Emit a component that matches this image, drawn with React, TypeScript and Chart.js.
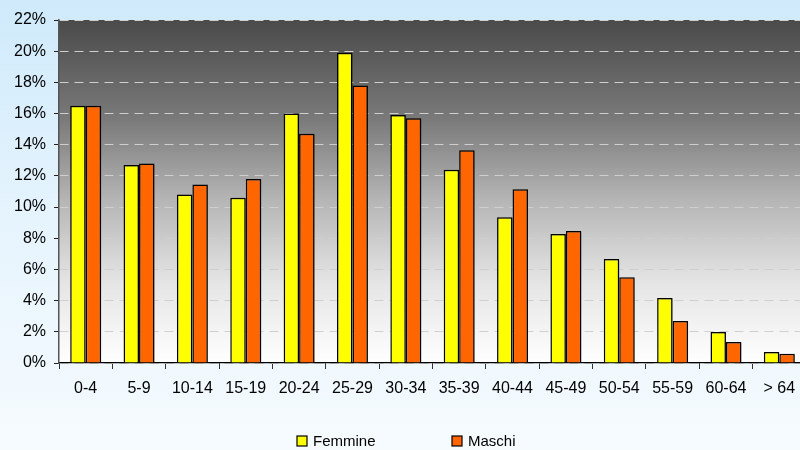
import React, { useEffect, useRef } from "react";
import { Chart, registerables } from "chart.js";

Chart.register(...registerables);

const categories = ["0-4", "5-9", "10-14", "15-19", "20-24", "25-29", "30-34", "35-39", "40-44", "45-49", "50-54", "55-59", "60-64", "> 64"];
const femmine = [16.5, 12.7, 10.8, 10.6, 16.0, 19.9, 15.9, 12.4, 9.35, 8.27, 6.67, 4.17, 1.99, 0.7];
const maschi = [16.5, 12.8, 11.45, 11.8, 14.7, 17.8, 15.7, 13.65, 11.15, 8.46, 5.5, 2.7, 1.35, 0.6];
const seriesNames = ["Femmine", "Maschi"];
const seriesColors = ["#ffff00", "#ff6600"];
const yMax = 22;
const yStep = 2;

const FONT = "'Liberation Sans', Arial, sans-serif";
const VIEW_W = 800;

const backgroundPlugin = {
  id: "bgPlugin",
  beforeDraw(chart: any) {
    const { ctx, width, height, chartArea } = chart;
    ctx.save();
    const g = ctx.createLinearGradient(0, 0, 0, height);
    g.addColorStop(0, "#cfeafb");
    g.addColorStop(0.5, "#e6f4fd");
    g.addColorStop(1, "#f6fbfe");
    ctx.fillStyle = g;
    ctx.fillRect(0, 0, width, height);
    const pg = ctx.createLinearGradient(0, chartArea.top, 0, chartArea.bottom);
    pg.addColorStop(0, "#4a4a4a");
    pg.addColorStop(0.29, "#7a7a7a");
    pg.addColorStop(0.52, "#b4b4b4");
    pg.addColorStop(0.76, "#e4e4e4");
    pg.addColorStop(1, "#ffffff");
    ctx.fillStyle = pg;
    ctx.fillRect(chartArea.left, chartArea.top, chartArea.right - chartArea.left, chartArea.bottom - chartArea.top);
    ctx.restore();
  },
  beforeDatasetsDraw(chart: any) {
    const ctx = chart.ctx;
    ctx.save();
    ctx.shadowColor = "rgba(0,0,0,0.3)";
    ctx.shadowOffsetX = 2;
    ctx.shadowOffsetY = 1;
    ctx.shadowBlur = 2;
  },
  afterDatasetsDraw(chart: any) {
    chart.ctx.restore();
  },
  afterDraw(chart: any) {
    const { ctx, height } = chart;
    const cx = VIEW_W / 2;
    const offsets = [-103, 52];
    ctx.save();
    ctx.font = `15px ${FONT}`;
    ctx.textBaseline = "alphabetic";
    ctx.textAlign = "left";
    seriesNames.forEach((name, i) => {
      const x = cx + offsets[i];
      const y = height - 14;
      ctx.fillStyle = seriesColors[i];
      ctx.fillRect(x, y, 10, 10);
      ctx.strokeStyle = "#000";
      ctx.lineWidth = 1.2;
      ctx.strokeRect(x, y, 10, 10);
      ctx.fillStyle = "#000";
      ctx.fillText(name, x + 16, y + 10);
    });
    ctx.restore();
  },
};

export default function App() {
  const canvasRef = useRef<HTMLCanvasElement | null>(null);

  useEffect(() => {
    if (!canvasRef.current) return;
    const chart = new Chart(canvasRef.current, {
      type: "bar",
      data: {
        labels: categories,
        datasets: [
          {
            label: seriesNames[0],
            data: femmine,
            backgroundColor: seriesColors[0],
            borderColor: "#000",
            borderWidth: 1.5,
            barPercentage: 1,
            categoryPercentage: 0.58,
          },
          {
            label: seriesNames[1],
            data: maschi,
            backgroundColor: seriesColors[1],
            borderColor: "#000",
            borderWidth: 1.5,
            barPercentage: 1,
            categoryPercentage: 0.58,
          },
        ],
      },
      options: {
        animation: false,
        responsive: true,
        maintainAspectRatio: false,
        layout: { padding: { top: 20, right: 0, bottom: 0, left: 0 } },
        plugins: {
          legend: { display: false },
          tooltip: { enabled: false },
        },
        scales: {
          x: {
            offset: true,
            grid: {
              offset: true,
              drawOnChartArea: false,
              drawTicks: true,
              tickLength: 6,
              tickColor: "#333",
            },
            border: { display: true, color: "#000", width: 1.2 },
            ticks: {
              color: "#000",
              font: { family: FONT, size: 16 },
              padding: 10,
              maxRotation: 0,
              autoSkip: false,
            },
            afterFit(scale: any) {
              scale.height = 87;
            },
          },
          y: {
            min: 0,
            max: yMax,
            ticks: {
              stepSize: yStep,
              color: "#000",
              font: { family: FONT, size: 16 },
              padding: 8,
              callback: (v: any) => `${v}%`,
            },
            grid: {
              color: "#cfcfcf",
              lineWidth: 1,
              drawTicks: true,
              tickLength: 5,
              tickColor: "#222",
              tickBorderDash: [],
            } as any,
            border: { display: true, color: "#555", width: 1.5, dash: [9, 6] },
            afterFit(scale: any) {
              scale.width = 59;
            },
          },
        },
      },
      plugins: [backgroundPlugin],
    });
    return () => chart.destroy();
  }, []);

  return (
    <div style={{ position: "fixed", left: 0, top: 0, width: VIEW_W, height: 450, overflow: "hidden" }}>
      <div style={{ position: "relative", width: 806, height: 450 }}>
        <canvas ref={canvasRef} />
      </div>
    </div>
  );
}
